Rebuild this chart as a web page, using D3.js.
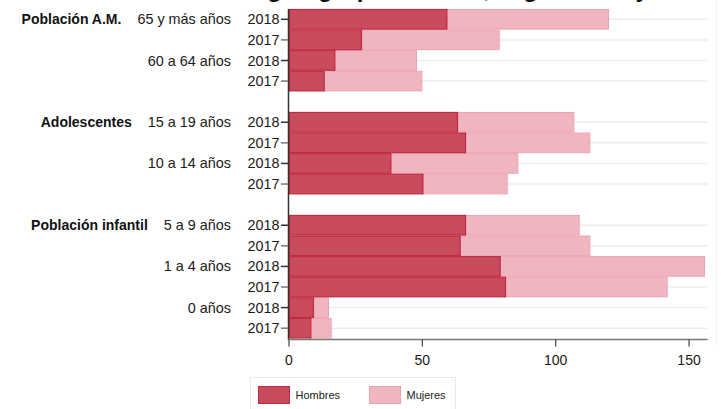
<!DOCTYPE html>
<html>
<head>
<meta charset="utf-8">
<script src="https://cdn.jsdelivr.net/npm/d3@7"></script>
<style>
  body { margin: 0; background: #fff; }
  svg { font-family: Arial, "Liberation Sans", sans-serif; display: block; }
</style>
</head>
<body>
<script>
const groups = ['Población A.M.', 'Adolescentes', 'Población infantil'];
const ages = ['65 y más años', '60 a 64 años', '15 a 19 años', '10 a 14 años', '5 a 9 años', '1 a 4 años', '0 años'];
const ageGroup = [0, 0, 1, 1, 2, 2, 2];
const years = ['2018', '2017'];
const hombres = [59, 27, 17, 13, 63, 66, 38, 50, 66, 64, 79, 81, 9, 8];
const mujeres = [61, 52, 31, 37, 44, 47, 48, 32, 43, 49, 77, 61, 6, 8];
const xTicks = [0, 50, 100, 150];
const series = ['Hombres', 'Mujeres'];

const width = 721;
const height = 409;

// rows, with an empty slot between groups
const rows = [];
const keys = [];
ages.forEach((age, ai) => {
  if (ai > 0 && ageGroup[ai] !== ageGroup[ai - 1]) keys.push('gap' + ai);
  years.forEach((yr, yi) => {
    const i = ai * 2 + yi;
    const key = age + '|' + yr;
    keys.push(key);
    rows.push({
      key: key,
      age: age,
      year: yr,
      first: yi === 0,
      groupFirst: yi === 0 && (ai === 0 || ageGroup[ai] !== ageGroup[ai - 1]),
      group: groups[ageGroup[ai]],
      h: hombres[i],
      m: mujeres[i]
    });
  });
});

const x = d3.scaleLinear().domain([0, 157]).range([289, 707.7]);
const y = d3.scaleBand().domain(keys).range([9, 338.5]).padding(0);

const svg = d3.select('body').append('svg')
    .attr('width', width)
    .attr('height', height);

// title, mostly cut off at the top (as in the original)
svg.append('text')
    .attr('x', 430)
    .attr('y', -3)
    .attr('text-anchor', 'middle')
    .attr('font-size', 24)
    .attr('font-weight', 'bold')
    .attr('fill', '#111')
    .text('Casos según grupo de edad, según sexo y año');

// right edge line
svg.append('line')
    .attr('x1', 716.5).attr('x2', 716.5)
    .attr('y1', 0).attr('y2', 345)
    .attr('stroke', '#f1f3f4');

// grid lines
svg.append('g')
  .selectAll('line')
  .data(rows)
  .join('line')
    .attr('x1', x(0))
    .attr('x2', 707.7)
    .attr('y1', d => y(d.key) + y.bandwidth() / 2)
    .attr('y2', d => y(d.key) + y.bandwidth() / 2)
    .attr('stroke', '#e8eff3')
    .attr('stroke-width', 1.5);

// bars
const bar = svg.append('g');
bar.selectAll('rect.m')
  .data(rows)
  .join('rect')
    .attr('class', 'm')
    .attr('x', d => x(d.h) + 0.5)
    .attr('y', d => y(d.key) + 0.5)
    .attr('width', d => x(d.h + d.m) - x(d.h) - 1)
    .attr('height', y.bandwidth() - 1)
    .attr('fill', '#f0b6c0')
    .attr('stroke', '#eca3b1')
    .attr('stroke-width', 1);

bar.selectAll('rect.h')
  .data(rows)
  .join('rect')
    .attr('class', 'h')
    .attr('x', d => x(0) + 0.5)
    .attr('y', d => y(d.key) + 0.5)
    .attr('width', d => x(d.h) - x(0))
    .attr('height', y.bandwidth() - 1)
    .attr('fill', '#c84c5e')
    .attr('stroke', '#c02a42')
    .attr('stroke-width', 1.2);

// y axis
svg.append('line')
    .attr('x1', x(0) - 0.5).attr('x2', x(0) - 0.5)
    .attr('y1', 9).attr('y2', 340)
    .attr('stroke', '#333')
    .attr('stroke-width', 1.5);

const yl = svg.append('g');
yl.selectAll('line')
  .data(rows)
  .join('line')
    .attr('x1', 281)
    .attr('x2', x(0) - 1)
    .attr('y1', d => y(d.key) + y.bandwidth() / 2)
    .attr('y2', d => y(d.key) + y.bandwidth() / 2)
    .attr('stroke', d => d.first ? '#333' : '#777')
    .attr('stroke-width', 1.5);

yl.selectAll('text.yr')
  .data(rows)
  .join('text')
    .attr('class', 'yr')
    .attr('x', 279.5)
    .attr('y', d => y(d.key) + y.bandwidth() / 2)
    .attr('dy', '0.35em')
    .attr('text-anchor', 'end')
    .attr('font-size', 14.4)
    .attr('fill', '#1a1a1a')
    .text(d => d.year);

const ageText = yl.selectAll('text.age')
  .data(rows.filter(d => d.first))
  .join('text')
    .attr('class', 'age')
    .attr('x', 231)
    .attr('y', d => y(d.key) + y.bandwidth() / 2)
    .attr('dy', '0.35em')
    .attr('text-anchor', 'end')
    .attr('font-size', 14.4)
    .attr('fill', '#1a1a1a');

ageText.filter(d => d.groupFirst)
  .append('tspan')
    .attr('font-weight', 'bold')
    .attr('font-size', 14)
    .attr('fill', '#111')
    .text(d => d.group);

ageText.append('tspan')
    .attr('dx', d => d.groupFirst ? 16 : 0)
    .text(d => d.age);

// x axis
const xa = svg.append('g')
    .attr('transform', 'translate(0,339.5)');
xa.append('line')
    .attr('x1', x(0) - 1)
    .attr('x2', 707.7)
    .attr('stroke', '#777')
    .attr('stroke-width', 1.5);
xa.selectAll('line.tick')
  .data(xTicks)
  .join('line')
    .attr('class', 'tick')
    .attr('x1', d => x(d))
    .attr('x2', d => x(d))
    .attr('y1', 0)
    .attr('y2', 7)
    .attr('stroke', '#444')
    .attr('stroke-width', 1.2);
xa.selectAll('text')
  .data(xTicks)
  .join('text')
    .attr('x', d => x(d))
    .attr('y', 21)
    .attr('dy', '0.35em')
    .attr('text-anchor', 'middle')
    .attr('font-size', 14)
    .attr('fill', '#1a1a1a')
    .text(d => d);

// legend
const lg = svg.append('g');
lg.append('rect')
    .attr('x', 250.5)
    .attr('y', 377.5)
    .attr('width', 205)
    .attr('height', 40)
    .attr('fill', 'none')
    .attr('stroke', '#e4ecee');

const legendX = d3.scalePoint().domain(series).range([258.5, 369.5]);
const li = lg.selectAll('g.item')
  .data(series)
  .join('g')
    .attr('class', 'item')
    .attr('transform', d => `translate(${legendX(d)},386.5)`);
li.append('rect')
    .attr('width', 31)
    .attr('height', 17)
    .attr('fill', (d, i) => i === 0 ? '#c84c5e' : '#f0b6c0')
    .attr('stroke', (d, i) => i === 0 ? '#c02a42' : '#eca3b1');
li.append('text')
    .attr('x', 37)
    .attr('y', 9)
    .attr('dy', '0.35em')
    .attr('font-size', 11)
    .attr('fill', '#222')
    .text(d => d);
</script>
</body>
</html>
